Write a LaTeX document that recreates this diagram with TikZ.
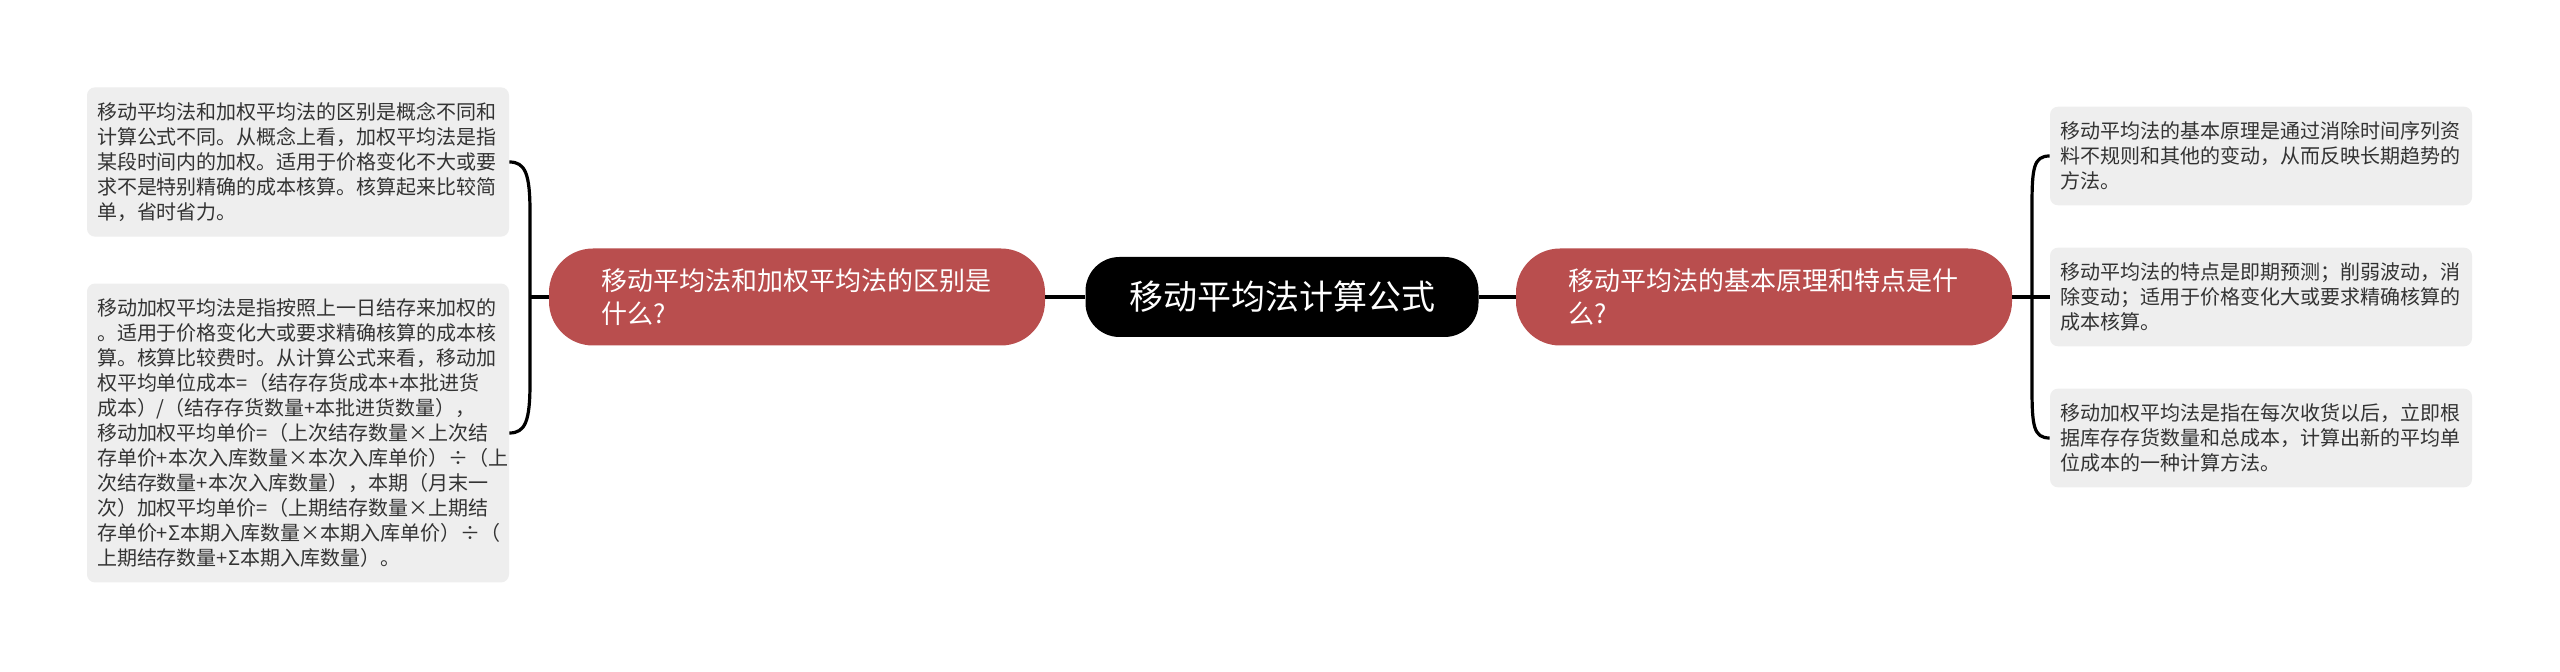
\documentclass[tikz,border=0pt]{standalone}
\usepackage{fontspec}
\newfontfamily\cjk{Noto Sans CJK SC}
\usepackage{tikz}
\usetikzlibrary{calc}
\definecolor{TopicRed}{HTML}{B94E4E}
\definecolor{LeafGray}{HTML}{EEEEEE}
\definecolor{LeafText}{HTML}{333333}

\begin{document}
\begin{tikzpicture}[
    x=0.5pt, y=-0.5pt,
    root/.style={fill=black, text=white, rounded corners=17pt, minimum width=196.5pt,
                 minimum height=40pt, inner sep=0pt, font=\cjk\fontsize{17pt}{20pt}\selectfont},
    topic/.style={fill=TopicRed, text=white, rounded corners=22pt, minimum width=248pt,
                  minimum height=48.5pt, text width=196pt, align=left, inner sep=0pt,
                  font=\cjk\fontsize{13pt}{16.5pt}\selectfont},
    leaf/.style={fill=LeafGray, text=LeafText, rounded corners=4pt, text width=201pt,
                 align=left, inner xsep=5pt, inner ysep=7.5pt,
                 font=\cjk\fontsize{10pt}{12.5pt}\selectfont},
    ln/.style={line width=1.6pt, black},
  ]
    \fill[white] (0,0) rectangle (2560,672);
    \useasboundingbox (0,0) rectangle (2560,672);

    % =================== 中心 ===================
    \node[root]  (root) at (1282,297) {移动平均法计算公式};
    \node[topic] (lq)   at (797,297)  {移动平均法和加权平均法的区别是\\什么?};
    \node[topic] (rq)   at (1764,297) {移动平均法的基本原理和特点是什\\么?};
    \draw[ln] (root.west) -- (lq.east);
    \draw[ln] (root.east) -- (rq.west);

    % =================== 左侧 ===================
    \node[leaf] (la) at (298,162) {移动平均法和加权平均法的区别是概念不同和\\
计算公式不同。从概念上看，加权平均法是指\\
某段时间内的加权。适用于价格变化不大或要\\
求不是特别精确的成本核算。核算起来比较简\\
单，省时省力。};
    \node[leaf] (lb) at (298,433) {移动加权平均法是指按照上一日结存来加权的\\
。适用于价格变化大或要求精确核算的成本核\\
算。核算比较费时。从计算公式来看，移动加\\
权平均单位成本=（结存存货成本+本批进货\\
成本）/（结存存货数量+本批进货数量），\\
移动加权平均单价=（上次结存数量×上次结\\
存单价+本次入库数量×本次入库单价）÷（上\\
次结存数量+本次入库数量），本期（月末一\\
次）加权平均单价=（上期结存数量×上期结\\
存单价+Σ本期入库数量×本期入库单价）÷（\\
上期结存数量+Σ本期入库数量）。};
    \coordinate (lj) at (530,297);
    \draw[ln] (lq.west) -- (lj);
    \draw[ln] (la.east) .. controls ($(la.east)+(16,0)$) and ($(lj|-la.east)+(0,12)$) .. ($(lj|-la.east)+(0,50)$)
      -- ($(lj|-lb.east)+(0,-50)$) .. controls ($(lj|-lb.east)+(0,-12)$) and ($(lb.east)+(16,0)$) .. (lb.east);

    % =================== 右侧 ===================
    \node[leaf] (ra) at (2261,156) {移动平均法的基本原理是通过消除时间序列资\\
料不规则和其他的变动，从而反映长期趋势的\\
方法。};
    \node[leaf] (rb) at (2261,297) {移动平均法的特点是即期预测；削弱波动，消\\
除变动；适用于价格变化大或要求精确核算的\\
成本核算。};
    \node[leaf] (rc) at (2261,438) {移动加权平均法是指在每次收货以后，立即根\\
据库存存货数量和总成本，计算出新的平均单\\
位成本的一种计算方法。};
    \coordinate (rj) at (2032,297);
    \draw[ln] (rq.east) -- (rb.west);
    \draw[ln] (ra.west) .. controls ($(ra.west)+(-16,0)$) and ($(rj|-ra.west)+(0,12)$) .. ($(rj|-ra.west)+(0,50)$)
      -- ($(rj|-rc.west)+(0,-50)$) .. controls ($(rj|-rc.west)+(0,-12)$) and ($(rc.west)+(-16,0)$) .. (rc.west);
  \end{tikzpicture}
\end{document}
